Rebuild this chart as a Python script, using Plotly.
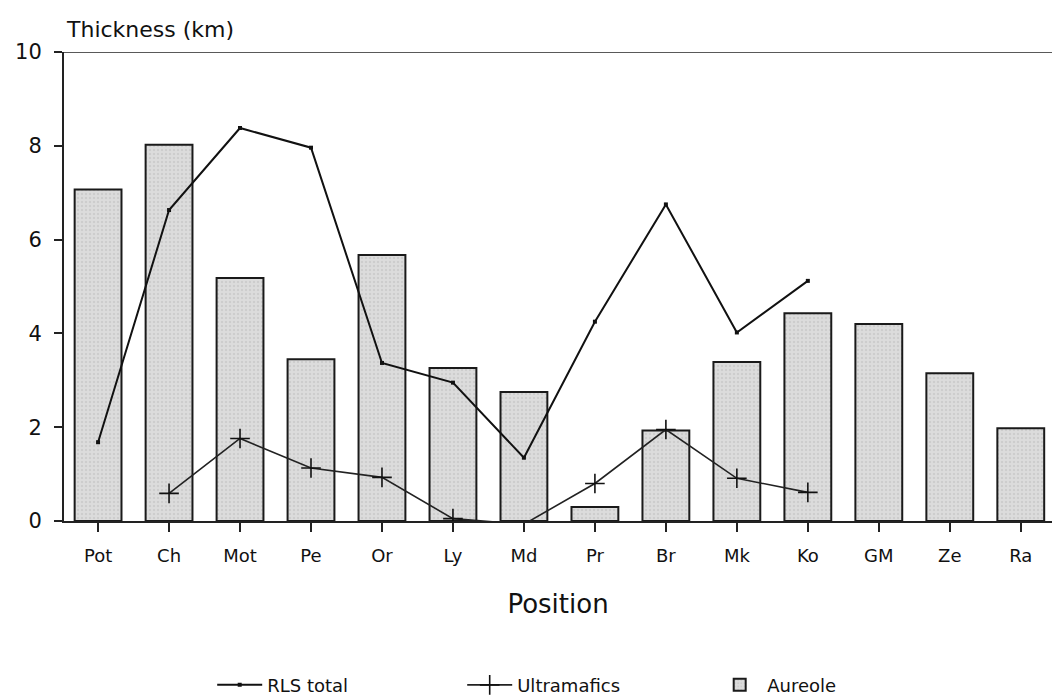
import plotly.graph_objects as go

positions = ["Pot", "Ch", "Mot", "Pe", "Or", "Ly", "Md", "Pr", "Br", "Mk", "Ko", "GM", "Ze", "Ra"]
aureole = [7.07, 8.02, 5.18, 3.45, 5.67, 3.26, 2.75, 0.30, 1.93, 3.39, 4.43, 4.20, 3.15, 1.98]
rls_cats = ["Pot", "Ch", "Mot", "Pe", "Or", "Ly", "Md", "Pr", "Br", "Mk", "Ko"]
rls_total = [1.68, 6.63, 8.38, 7.96, 3.37, 2.95, 1.35, 4.25, 6.75, 4.02, 5.12]
ultra_cats = ["Ch", "Mot", "Pe", "Or", "Ly", "Md", "Pr", "Br", "Mk", "Ko"]
ultramafics = [0.59, 1.76, 1.13, 0.93, 0.05, -0.07, 0.80, 1.95, 0.91, 0.61]
yticks = [0, 2, 4, 6, 8, 10]

FONT = "DejaVu Sans"
fig = go.Figure()
fig.add_trace(go.Bar(
    x=positions, y=aureole, name="Aureole", width=0.66,
    marker=dict(color="#d6d6d6", line=dict(color="#1a1a1a", width=2),
                pattern=dict(shape=".", fgcolor="#bdbdbd", bgcolor="#dcdcdc", size=4, solidity=0.3)),
    legendrank=3,
))
fig.add_trace(go.Scatter(
    x=rls_cats, y=rls_total, name="RLS total", mode="lines+markers",
    line=dict(color="#111111", width=2), marker=dict(symbol="square", size=4, color="#111111"),
    legendrank=1, cliponaxis=False,
))
fig.add_trace(go.Scatter(
    x=ultra_cats, y=ultramafics, name="Ultramafics", mode="lines+markers",
    line=dict(color="#222222", width=1.6),
    marker=dict(symbol="cross-thin", size=14, line=dict(color="#111111", width=1.6)),
    legendrank=2, cliponaxis=False,
))

fig.add_shape(type="line", xref="paper", yref="y", x0=-0.01, x1=1, y0=10, y1=10,
              line=dict(color="#222222", width=1.5))

fig.update_layout(
    width=1052, height=697,
    margin=dict(l=64, r=0, t=52, b=176, autoexpand=False),
    paper_bgcolor="white", plot_bgcolor="white",
    font=dict(family=FONT, size=18, color="#111111"),
    bargap=0.34,
    showlegend=True,
    legend=dict(orientation="h", x=0.15, xanchor="left", y=-0.35, yanchor="middle",
                font=dict(size=18), itemwidth=45, entrywidth=190, entrywidthmode="pixels"),
    xaxis=dict(range=[-0.48, 13.44], showline=True, linecolor="#222222", linewidth=2,
               ticks="outside", ticklen=9, tickcolor="#222222", tickwidth=1.5,
               ticklabelstandoff=8,
               showgrid=False, zeroline=False,
               title=dict(text="Position", font=dict(size=26), standoff=30),
               tickfont=dict(size=18)),
    yaxis=dict(range=[0, 10], tickvals=yticks, showline=True, linecolor="#222222", linewidth=2,
               ticks="outside", ticklen=8, tickcolor="#222222", tickwidth=1.5,
               ticklabelstandoff=8,
               showgrid=False, zeroline=False, tickfont=dict(size=21)),
    annotations=[dict(text="Thickness (km)", xref="paper", yref="paper", x=0.0, y=1.0,
                      xanchor="left", yanchor="bottom", yshift=8, showarrow=False,
                      font=dict(size=22))],
)

fig.write_html("out.html")
